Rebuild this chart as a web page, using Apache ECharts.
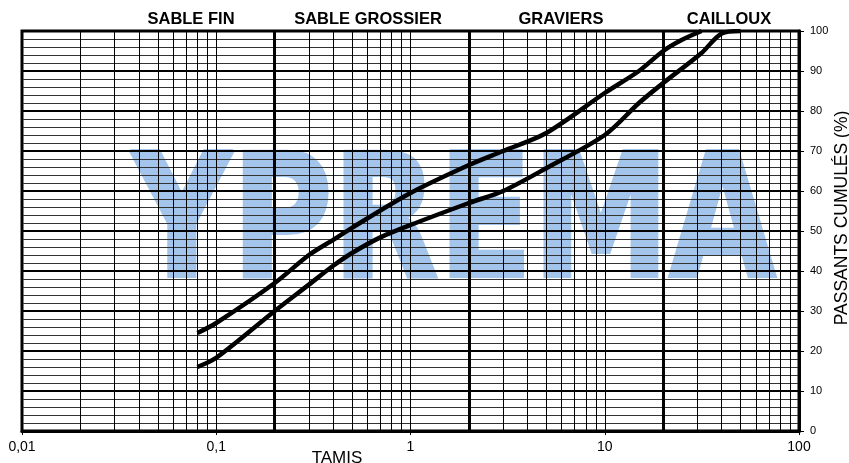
<!DOCTYPE html>
<html>
<head>
<meta charset="utf-8">
<script src="https://cdn.jsdelivr.net/npm/echarts@6/dist/echarts.min.js"></script>
<style>
html,body{margin:0;padding:0;background:#fff;}
#chart{width:849px;height:463px;}
</style>
</head>
<body>
<div id="chart"></div>
<script>
// ---- data ----
const sizesUpper = [0.08, 0.1, 0.2, 0.3, 0.4, 0.5, 1, 2, 3, 5, 10, 15, 20, 25, 31.5];
const passUpper  = [24.5, 27, 37, 44, 47.8, 50.8, 59.5, 66.5, 70, 74.5, 84.5, 90, 95, 97.8, 100];
const sizesLower = [0.08, 0.1, 0.2, 0.3, 0.4, 0.5, 0.7, 1, 2, 3, 5, 10, 15, 20, 31.5, 40, 50];
const passLower  = [16, 18.3, 30, 36.6, 41.3, 44.5, 48.4, 51.5, 57, 60, 65.7, 74, 82, 87, 94.5, 99.4, 100];
const xTicks = [0.01, 0.1, 1, 10, 100];
const xTickLabels = ['0,01', '0,1', '1', '10', '100'];
const gridMinorX = [0.02,0.03,0.04,0.05,0.06,0.07,0.08,0.09,
                    0.2,0.3,0.4,0.5,0.6,0.7,0.8,0.9,
                    2,3,4,5,6,7,8,9,
                    20,30,40,50,60,70,80,90];
const gridMajorX = [0.2, 2, 20];
const zoneLabels = ['SABLE FIN', 'SABLE GROSSIER', 'GRAVIERS', 'CAILLOUX'];
const zoneCenters = [191, 368, 561, 729];

const FONT = 'Liberation Sans, Arial, sans-serif';
const chart = echarts.init(document.getElementById('chart'), null, {renderer:'canvas'});

function pairs(xs, ys){ return xs.map((x,i)=>[x, ys[i]]); }

const thinML = {
  silent: true, symbol: ['none','none'], animation: false,
  label: {show:false},
  lineStyle: {color:'#000', width:1, type:'solid'},
  emphasis: {disabled:true},
  data: gridMinorX.map(v => ({xAxis: v}))
};
const thickML = {
  silent: true, symbol: ['none','none'], animation: false,
  label: {show:false},
  lineStyle: {color:'#000', width:3, type:'solid'},
  emphasis: {disabled:true},
  data: gridMajorX.map(v => ({xAxis: v}))
};

const graphics = [
  {
    type: 'text', z: -10, silent: true,
    x: 132, y: 231, scaleX: 0.8, scaleY: 1,
    style: {
      text: 'YPREMA', fill: '#A3C5EC', stroke: '#A3C5EC', lineWidth: 4,
      font: 'bold 172px DejaVu Sans, sans-serif',
      textAlign: 'left', textVerticalAlign: 'middle'
    }
  },
  {
    type: 'text', silent: true, x: 337, y: 450,
    style: {text:'TAMIS', fill:'#000', font:'17px ' + FONT, textAlign:'center', textVerticalAlign:'top'}
  },
  {
    type: 'text', silent: true, x: 842, y: 218, rotation: Math.PI/2,
    style: {text:'PASSANTS CUMULÉS (%)', fill:'#000', font:'17.5px ' + FONT, textAlign:'center', textVerticalAlign:'middle'}
  }
];
zoneLabels.forEach((t,i)=>{
  graphics.push({
    type:'text', silent:true, x: zoneCenters[i], y: 19,
    style:{text:t, fill:'#000', font:'bold 16.5px ' + FONT, textAlign:'center', textVerticalAlign:'middle'}
  });
});

const option = {
  animation: false,
  backgroundColor: '#fff',
  grid: {left:22, right:50, top:31, bottom:32, show:true, borderColor:'#000', borderWidth:3, backgroundColor:'transparent'},
  xAxis: {
    type: 'log', logBase: 10, min: 0.01, max: 100,
    axisLine: {show:true, onZero:false, lineStyle:{color:'#000', width:3}},
    axisTick: {show:true, length:4, lineStyle:{color:'#000', width:1}},
    axisLabel: {
      color:'#000', fontSize:14, fontFamily: FONT, margin: 9,
      formatter: function(v){
        for (let i=0;i<xTicks.length;i++){ if (Math.abs(Math.log10(v)-Math.log10(xTicks[i]))<1e-6) return xTickLabels[i]; }
        return '';
      }
    },
    splitLine: {show:true, lineStyle:{color:'#000', width:1}}
  },
  yAxis: {
    type: 'value', position: 'right', min: 0, max: 100, interval: 10,
    axisLine: {show:true, lineStyle:{color:'#000', width:3}},
    axisTick: {show:true, length:5, inside:false, lineStyle:{color:'#000', width:1}},
    axisLabel: {color:'#000', fontSize:11, fontFamily: FONT, margin: 11},
    splitLine: {show:true, lineStyle:{color:'#000', width:2}},
    minorTick: {show:false, splitNumber:5},
    minorSplitLine: {show:true, lineStyle:{color:'#333', width:1}}
  },
  graphic: graphics,
  series: [
    {
      type:'line', name:'upper', data: pairs(sizesUpper, passUpper),
      smooth: 0.3, showSymbol:false, symbol:'none', z: 5,
      lineStyle:{color:'#000', width:4.5}, markLine: thickML
    },
    {
      type:'line', name:'lower', data: pairs(sizesLower, passLower),
      smooth: 0.3, showSymbol:false, symbol:'none', z: 5,
      lineStyle:{color:'#000', width:4.5}, markLine: thinML
    }
  ]
};
chart.setOption(option);
</script>
</body>
</html>
